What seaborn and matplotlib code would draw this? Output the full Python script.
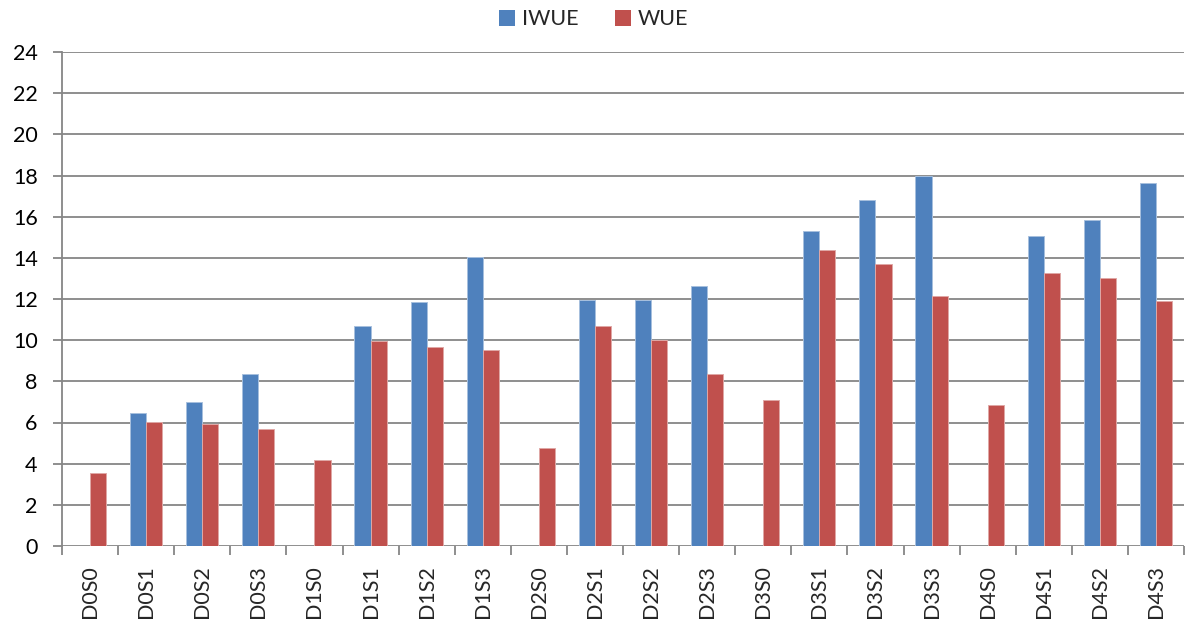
import matplotlib
matplotlib.use("Agg")
import matplotlib.pyplot as plt
from matplotlib.patches import Patch
import numpy as np
import pandas as pd
import seaborn as sns

# Treatment labels and water-use efficiency values
treatments = ["D0S0", "D0S1", "D0S2", "D0S3", "D1S0", "D1S1", "D1S2", "D1S3",
              "D2S0", "D2S1", "D2S2", "D2S3", "D3S0", "D3S1", "D3S2", "D3S3",
              "D4S0", "D4S1", "D4S2", "D4S3"]
iwue = [0, 6.48, 6.98, 8.38, 0, 10.68, 11.85, 14.05,
        0, 11.95, 11.97, 12.62, 0, 15.28, 16.79, 17.98,
        0, 15.05, 15.82, 17.62]
wue = [3.55, 6.02, 5.92, 5.67, 4.2, 9.98, 9.66, 9.52,
       4.78, 10.67, 10.02, 8.35, 7.11, 14.4, 13.7, 12.16,
       6.86, 13.28, 13.04, 11.88]
series = ["IWUE", "WUE"]
colors = ["#4F81BD", "#C0504D"]
edge_colors = ["#A7C0DE", "#DFA8A6"]
y_ticks = list(range(0, 25, 2))

df = pd.DataFrame({
    "treatment": treatments * 2,
    "value": iwue + wue,
    "series": [series[0]] * len(treatments) + [series[1]] * len(treatments),
})

sns.set_style("white")
plt.rcParams["font.family"] = ["Lato", "DejaVu Sans"]

W, H = 1185, 624
fig = plt.figure(figsize=(W / 100, H / 100), dpi=100)
ax = fig.add_axes([62 / W, 1 - 546 / H, (1184 - 62) / W, (546 - 52) / H])

grid_c = "#868686"
for y in y_ticks:
    ax.axhline(y, color=grid_c, lw=1.3, zorder=0)

sns.barplot(data=df, x="treatment", y="value", hue="series", order=treatments,
            hue_order=series, palette=colors, width=0.575, gap=0,
            saturation=1, ax=ax, legend=False, zorder=3,
            edgecolor="none", linewidth=0)

# thin light outline on each bar
for cont, ec in zip(ax.containers, edge_colors):
    for bar in cont:
        if bar.get_height() > 0:
            bar.set_edgecolor(ec)
            bar.set_linewidth(0.7)

ax.set_xlim(-0.5, len(treatments) - 0.5)
ax.set_ylim(0, 24)
ax.set_yticks(y_ticks)
ax.set_xlabel("")
ax.set_ylabel("")

for side in ["top", "right", "bottom"]:
    ax.spines[side].set_visible(False)
ax.spines["left"].set_color(grid_c)
ax.spines["left"].set_linewidth(1.3)

ax.tick_params(axis="y", which="major", left=True, length=6.5, width=1.3,
               color=grid_c, labelsize=15.5, pad=11, labelcolor="black")
ax.set_xticks(range(len(treatments)))
ax.set_xticklabels(treatments, rotation=90, fontsize=15.5)
ax.tick_params(axis="x", which="major", bottom=True, length=0, pad=14)
ax.set_xticks(np.arange(-0.5, len(treatments), 1.0), minor=True)
ax.tick_params(axis="x", which="minor", bottom=True, length=6.5, width=1.3,
               color=grid_c)

handles = [Patch(facecolor=c, edgecolor="none", label=s) for s, c in zip(series, colors)]
fig.legend(handles=handles, loc="center", bbox_to_anchor=(0.501, 0.969), ncol=2,
           frameon=False, fontsize=15.5, handlelength=0.75, handleheight=0.75,
           handletextpad=0.3, columnspacing=1.7, borderpad=0)

fig.savefig("out.png", dpi=100)
